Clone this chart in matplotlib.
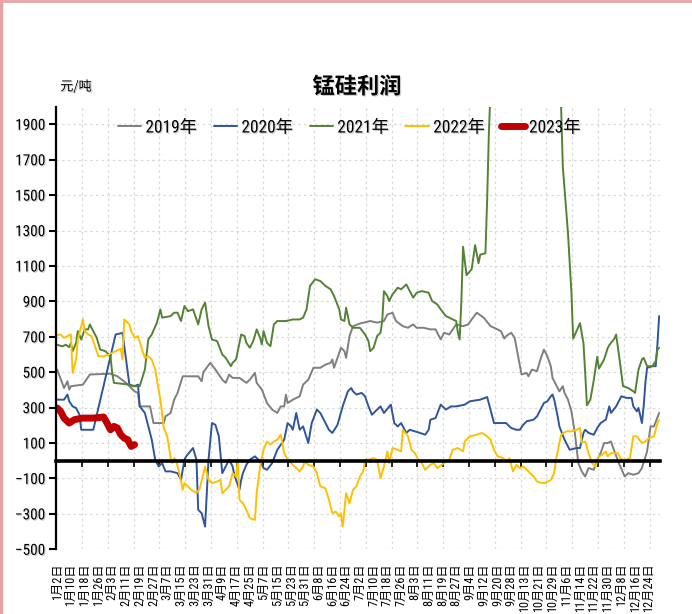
import matplotlib
matplotlib.use("Agg")
import matplotlib.pyplot as plt
from matplotlib.lines import Line2D
from matplotlib import font_manager
import matplotlib.patheffects as pe
import numpy as np

names = {f.name for f in font_manager.fontManager.ttflist}
narrow = [n for n in ['Liberation Sans Narrow', 'DejaVu Sans Condensed', 'Roboto Condensed',
                      'Open Sans Condensed', 'Liberation Sans'] if n in names]
plt.rcParams['font.family'] = narrow[:1] + ['Noto Sans CJK SC', 'DejaVu Sans']

# ---------------- data (day index within the trading calendar, profit 元/吨) ----------------
tick_labels = ["1月2日", "1月10日", "1月18日", "1月26日", "2月3日", "2月11日", "2月19日", "2月27日",
               "3月7日", "3月15日", "3月23日", "3月31日", "4月9日", "4月17日", "4月25日", "5月7日",
               "5月15日", "5月23日", "5月31日", "6月8日", "6月16日", "6月24日", "7月2日", "7月10日",
               "7月18日", "7月26日", "8月3日", "8月11日", "8月19日", "8月27日", "9月4日", "9月12日",
               "9月20日", "9月28日", "10月13日", "10月21日", "10月29日", "11月6日", "11月14日",
               "11月22日", "11月30日", "12月8日", "12月16日", "12月24日"]
n_days = 351

d2019 = [0, 4, 6, 7, 8, 15, 19, 31, 35, 40, 42, 45, 47, 48, 54, 55, 56, 62, 63, 66, 68, 70, 73, 82, 84, 85, 89,
         92, 96, 98, 100, 102, 106, 110, 112, 115, 116, 119, 122, 125, 128, 130, 132, 133, 134, 137, 141, 143,
         146, 149, 153, 156, 159, 160, 161, 163, 165, 167, 168, 170, 172, 176, 182, 186, 190, 192, 195, 197,
         201, 204, 207, 209, 213, 217, 220, 223, 225, 228, 230, 232, 236, 239, 241, 244, 248, 252, 256, 258,
         260, 261, 264, 266, 268, 270, 273, 274, 276, 279, 281, 283, 285, 287, 288, 290, 292, 294, 295, 297,
         299, 301, 303, 305, 307, 309, 312, 314, 316, 318, 320, 322, 324, 327, 330, 332, 335, 338, 340, 343,
         345, 347, 350]
v2019 = [515, 411, 449, 402, 421, 430, 487, 492, 477, 440, 421, 392, 383, 307, 307, 260, 213, 213, 251, 270, 345,
         383, 477, 477, 449, 500, 553, 515, 458, 440, 487, 468, 468, 440, 458, 496, 440, 402, 326, 289, 270, 307,
         307, 373, 326, 345, 364, 430, 458, 525, 525, 543, 553, 572, 525, 581, 638, 619, 581, 704, 760, 775,
         789, 780, 789, 826, 836, 789, 760, 751, 770, 751, 751, 742, 742, 685, 723, 713, 742, 770, 760, 770,
         798, 836, 808, 760, 742, 732, 690, 704, 723, 694, 590, 487, 496, 477, 515, 506, 572, 628, 590, 534,
         468, 430, 392, 421, 383, 345, 279, 157, -13, -60, -89, -41, -51, 6, 43, 100, 100, 109, 53, -23, -89,
         -70, -79, -70, -41, 53, 194, 194, 270]

d2020 = [0, 4, 6, 7, 9, 11, 13, 14, 21, 34, 38, 42, 45, 47, 48, 51, 53, 55, 57, 59, 61, 63, 66, 70, 72, 74, 75,
         79, 81, 82, 84, 86, 88, 90, 92, 94, 96, 98, 100, 102, 103, 104, 106, 107, 108, 110, 112, 115, 118, 120,
         122, 125, 128, 130, 132, 134, 136, 137, 139, 141, 143, 146, 148, 151, 153, 155, 158, 160, 163, 166,
         169, 171, 172, 174, 177, 179, 181, 183, 186, 188, 190, 194, 196, 198, 200, 203, 205, 208, 211, 214,
         216, 217, 220, 223, 226, 229, 232, 237, 240, 246, 250, 253, 254, 258, 261, 262, 264, 267, 269, 271,
         273, 277, 279, 281, 283, 285, 287, 288, 289, 291, 292, 295, 297, 298, 302, 304, 306, 307, 309, 312,
         314, 316, 319, 321, 322, 325, 328, 331, 334, 335, 337, 338, 340, 341, 342, 343, 346, 348, 349, 350]
v2020 = [345, 345, 374, 336, 307, 298, 260, 175, 175, 713, 722, 430, 421, 430, 307, 270, 194, 119, 6, -32, -13,
         -60, -60, -70, -108, 6, 25, 72, 6, -277, -296, -372, 6, 213, 203, 138, -70, -32, 6, -32, -79, -108,
         -164, -108, -70, -23, 6, 25, -4, -41, -51, -13, 62, 91, 119, 213, 194, 175, 270, 175, 194, 100, 213,
         289, 270, 232, 175, 157, 203, 307, 392, 411, 392, 374, 383, 364, 307, 260, 289, 307, 270, 317, 213,
         194, 213, 157, 175, 166, 157, 147, 175, 232, 241, 317, 289, 307, 307, 317, 336, 345, 360, 251, 213,
         213, 213, 203, 185, 175, 175, 203, 223, 232, 251, 289, 326, 336, 364, 374, 345, 251, 194, 119, 81, 62,
         72, 72, 157, 175, 157, 147, 185, 213, 232, 307, 270, 307, 364, 355, 355, 307, 279, 298, 213, 307, 440,
         525, 534, 534, 657, 817]

d2021 = [0, 3, 5, 7, 8, 9, 11, 12, 14, 16, 18, 19, 21, 23, 25, 28, 31, 32, 33, 42, 44, 48, 51, 53, 55, 58, 60,
         61, 66, 68, 70, 72, 74, 76, 79, 82, 84, 86, 88, 90, 93, 96, 98, 101, 102, 104, 106, 107, 109, 110,
         112, 114, 116, 118, 119, 120, 122, 124, 126, 128, 133, 137, 141, 143, 145, 147, 150, 153, 156, 159,
         161, 164, 165, 167, 168, 170, 172, 176, 179, 181, 182, 184, 186, 188, 189, 190, 192, 193, 195, 198,
         200, 203, 205, 207, 209, 212, 216, 218, 221, 223, 226, 228, 230, 232, 233, 234, 235, 236, 238, 241,
         243, 245, 246, 249, 250, 251, 252, 255, 290, 293, 294, 297, 299, 300, 303, 304, 306, 307, 308, 310,
         312, 314, 315, 318, 320, 321, 324, 325, 327, 329, 332, 335, 336, 338, 340, 341, 343, 346, 348, 349,
         350]
v2021 = [655, 646, 655, 642, 665, 619, 665, 732, 685, 742, 742, 770, 732, 694, 628, 619, 590, 496, 440, 430,
         421, 421, 515, 685, 713, 780, 855, 808, 817, 836, 836, 789, 874, 845, 855, 770, 855, 893, 761, 685,
         676, 600, 581, 534, 553, 572, 666, 713, 704, 666, 638, 676, 742, 694, 657, 732, 666, 647, 770, 789,
         789, 798, 798, 808, 855, 987, 1025, 1015, 987, 968, 930, 855, 798, 789, 864, 770, 751, 751, 713, 676,
         619, 638, 704, 723, 789, 958, 930, 902, 940, 977, 968, 996, 958, 921, 949, 958, 949, 902, 883, 855,
         817, 808, 798, 789, 723, 685, 900, 1208, 1048, 1082, 1218, 1116, 1164, 1172, 1472, 1850, 2100, 2600,
         2600, 2000, 1660, 1285, 950, 690, 756, 777, 664, 498, 313, 345, 455, 587, 521, 572, 634, 653, 690, 713,
         572, 421, 411, 392, 383, 515, 572, 581, 534, 534, 562, 628, 638]

d2022 = [0, 2, 4, 6, 8, 9, 11, 12, 15, 16, 18, 20, 22, 24, 27, 30, 34, 37, 38, 39, 42, 43, 45, 47, 49, 51, 53,
         55, 57, 60, 62, 64, 66, 67, 68, 69, 71, 73, 74, 76, 78, 81, 83, 86, 88, 90, 93, 95, 96, 98, 100, 102,
         104, 105, 106, 108, 110, 112, 115, 116, 118, 120, 122, 124, 126, 128, 130, 132, 134, 136, 139, 141,
         143, 144, 146, 149, 151, 153, 156, 158, 160, 162, 164, 165, 166, 168, 170, 172, 174, 176, 178, 179,
         181, 184, 186, 188, 190, 192, 193, 195, 198, 200, 201, 204, 206, 208, 210, 212, 214, 217, 219, 221,
         225, 228, 230, 233, 236, 237, 240, 244, 247, 250, 252, 254, 256, 258, 260, 262, 263, 265, 267, 269,
         271, 273, 275, 277, 279, 282, 284, 287, 289, 290, 291, 293, 296, 299, 302, 304, 305, 307, 309, 311,
         313, 315, 317, 319, 320, 322, 326, 328, 331, 333, 335, 337, 340, 342, 344, 347, 349, 350]
v2022 = [710, 713, 694, 704, 713, 496, 572, 685, 798, 732, 713, 704, 647, 590, 590, 600, 619, 632, 572, 798,
         770, 732, 694, 704, 638, 581, 590, 572, 515, 345, 185, 138, 15, -13, 15, 6, -70, -164, -126, -145,
         -164, -183, -155, -32, -108, -126, -117, -108, -183, -164, -145, -70, -89, 6, -220, -240, -277, -325,
         -334, -183, -32, 62, 109, 91, 109, 119, 147, 43, 6, -13, -41, -60, -32, -4, -23, -32, -70, -145, -155,
         -220, -296, -287, -315, -296, -372, -183, -240, -164, -145, -89, -60, 6, 6, 15, 6, -98, -32, 53, -13,
         72, 62, 53, 175, 138, 62, 43, 6, -13, -51, -23, -13, -41, -13, 6, 62, 72, 53, 109, 138, 147, 157, 138,
         119, 62, 25, 20, 10, -5, 15, -60, -23, -41, -32, -51, -70, -89, -117, -126, -126, -108, -70, 6, 53,
         147, 166, 166, 175, 185, 100, 109, 43, -13, -32, 25, 34, 53, 25, 43, 43, 6, 6, 15, 138, 138, 100, 109,
         128, 138, 213, 230]

d2023 = [0, 2, 4, 7, 10, 12, 15, 21, 27, 29, 31, 33, 35, 37, 39, 41, 43, 45]
v2023 = [298, 279, 241, 213, 232, 236, 241, 241, 247, 213, 175, 194, 185, 147, 128, 119, 81, 91]

series = [("2019年", d2019, v2019, "#7F7F7F", 1.4),
          ("2020年", d2020, v2020, "#2F559A", 1.4),
          ("2021年", d2021, v2021, "#548235", 1.4),
          ("2022年", d2022, v2022, "#FFC000", 1.4),
          ("2023年", d2023, v2023, "#C00000", 5.0)]

shadow = [pe.SimplePatchShadow(offset=(0.8, -0.8), shadow_rgbFace='#8C8C8C', alpha=0.45), pe.Normal()]

# ---------------- figure ----------------
fig = plt.figure(figsize=(6.92, 6.14), dpi=100)
ax = fig.add_axes([56.3 / 692, (614 - 549.3) / 614, 603.7 / 692, 442.7 / 614])

for name, d, v, c, lw in series:
    ax.plot(d, v, color=c, lw=lw, label=name, solid_capstyle='round', solid_joinstyle='round')

ax.set_xlim(-0.5, n_days - 0.5)
ax.set_ylim(-500, 2000)
ax.set_yticks(np.arange(-500, 2000, 200))

ax.spines['top'].set_visible(False)
ax.spines['right'].set_visible(False)
ax.spines['bottom'].set_position(('data', 0))
ax.spines['bottom'].set_linewidth(2.6)
ax.spines['bottom'].set_zorder(5)
ax.spines['left'].set_linewidth(1.6)
ax.set_xticks(np.arange(-0.5, n_days, 15))
ax.tick_params(axis='x', length=4, width=1.2, direction='out', labelbottom=False)
ax.tick_params(axis='y', length=5, width=1.5, direction='out', labelsize=11, pad=3)
for t in ax.get_yticklabels():
    t.set_path_effects(shadow)
ax.grid(True, color='#D9D9D9', linestyle=(0, (2, 2.5)), lw=0.9)
ax.set_axisbelow(True)

sec = ax.secondary_xaxis('bottom')
sec.set_xticks(np.arange(len(tick_labels)) * 8, labels=tick_labels)
sec.tick_params(axis='x', length=0, pad=10, labelrotation=90, labelsize=8.8)
sec.spines['bottom'].set_visible(False)

leg = ax.legend(loc='center', bbox_to_anchor=(0.485, 0.952), ncol=5, frameon=False,
                fontsize=12.5, handlelength=1.35, handletextpad=0.25, columnspacing=0.95,
                borderaxespad=0)
for h in leg.get_lines():
    h.set_solid_capstyle('round')
for t in leg.get_texts():
    t.set_path_effects(shadow)

fig.text(357 / 692, 1 - 87 / 614, "锰硅利润", ha='center', va='center', fontsize=16,
         fontweight='bold', family=['Noto Sans CJK SC'], path_effects=shadow)
fig.text(76 / 692, 1 - 87 / 614, "元/吨", ha='center', va='center', fontsize=9.5,
         family=['Noto Sans CJK SC'], path_effects=shadow)

fig.add_artist(Line2D([0.002, 0.002], [0, 1], transform=fig.transFigure, color='#E6A3A3', lw=2.5))
fig.add_artist(Line2D([0, 1], [0.998, 0.998], transform=fig.transFigure, color='#E6A3A3', lw=2))

fig.savefig("out.png", dpi=100)
